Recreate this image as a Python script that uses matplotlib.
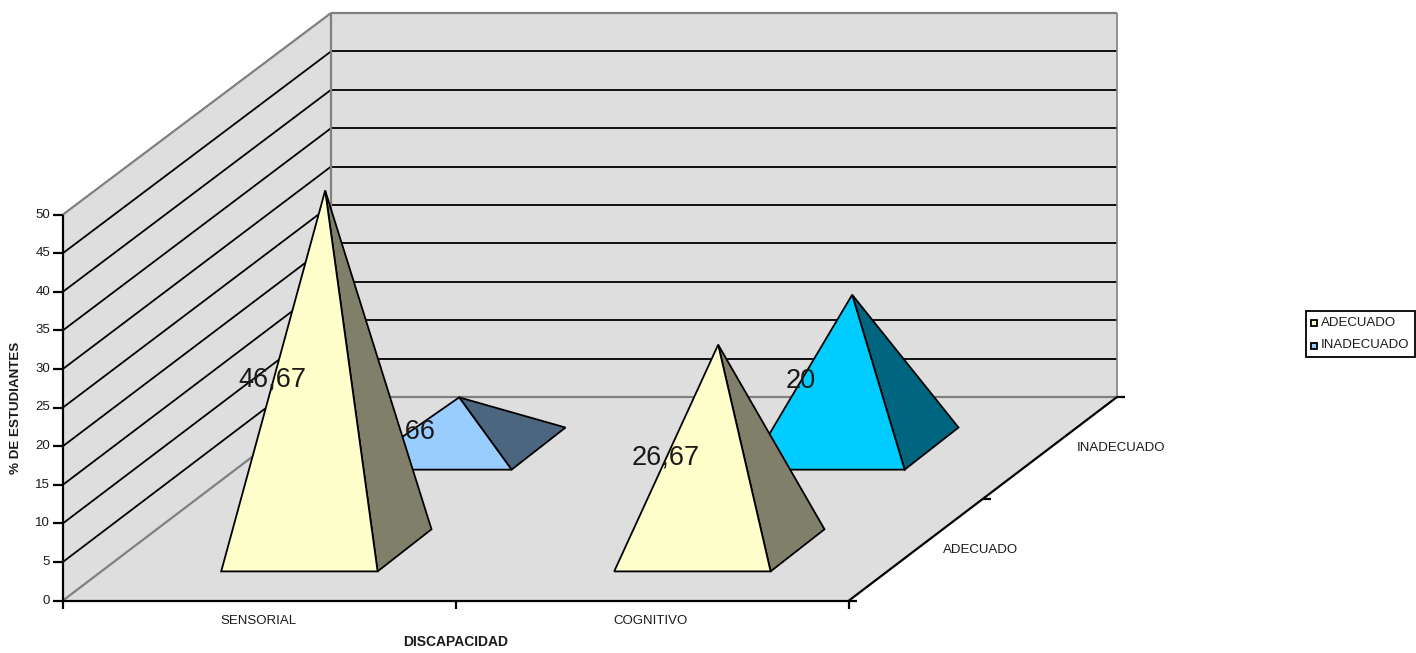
import matplotlib
matplotlib.use("Agg")
import matplotlib.pyplot as plt
from matplotlib.patches import Polygon, Rectangle

plt.rcParams['font.family'] = ['Liberation Sans', 'DejaVu Sans']

# ---- data ----
categories = ["SENSORIAL", "COGNITIVO"]
series_names = ["ADECUADO", "INADECUADO"]
adecuado = [46.67, 26.67]
inadecuado = [6.66, 20.0]
adecuado_labels = ["46,67", "26,67"]
inadecuado_labels = ["6,66", "20"]
value_ticks = [0, 5, 10, 15, 20, 25, 30, 35, 40, 45, 50]
x_title = "DISCAPACIDAD"
y_title = "% DE ESTUDIANTES"

# ---- oblique projection: (category, depth, value) -> figure pixels ----
ORIGIN = (63.0, 600.5)
CAT_W = 393.0
DEPTH_VEC = (134.0, -101.75)   # per series row
UNIT_Z = 7.72
ZMAX = value_ticks[-1]
NCAT = len(categories)
NROW = len(series_names)


def P(c, d, z=0.0):
    return (ORIGIN[0] + c * CAT_W + d * DEPTH_VEC[0],
            ORIGIN[1] + d * DEPTH_VEC[1] - z * (UNIT_Z - 0.02 * d))


fig = plt.figure(figsize=(14.16, 6.53), dpi=100, facecolor="white")
ax = fig.add_axes([0, 0, 1, 1])
ax.set_xlim(0, 1416)
ax.set_ylim(653, 0)
ax.axis("off")

WALL = "#DEDEDE"
GREY = "#808080"
LW = 1.3
TXT = "#1A1A1A"
SMALL = 9.5


def poly(pts, fc, z, ec="none", lw=0):
    ax.add_patch(Polygon(pts, closed=True, facecolor=fc, edgecolor=ec,
                         linewidth=lw, zorder=z, joinstyle="miter"))


def line(a, b, color="black", lw=LW, z=3):
    ax.plot([a[0], b[0]], [a[1], b[1]], color=color, lw=lw, zorder=z,
            solid_capstyle="butt")


# walls and floor
poly([P(0, 0), P(0, 0, ZMAX), P(0, NROW, ZMAX), P(0, NROW)], WALL, 1)
poly([P(0, NROW), P(0, NROW, ZMAX), P(NCAT, NROW, ZMAX), P(NCAT, NROW)], WALL, 1)
poly([P(0, 0), P(NCAT, 0), P(NCAT, NROW), P(0, NROW)], WALL, 1)

# gridlines
for v in value_ticks:
    col = GREY if v in (value_ticks[0], value_ticks[-1]) else "black"
    w = 1.6 if col == GREY else LW
    line(P(0, 0, v), P(0, NROW, v), col, w, 2)
    line(P(0, NROW, v), P(NCAT, NROW, v), col, w, 2)
line(P(0, NROW), P(0, NROW, ZMAX), GREY, 1.6, 2)
line(P(NCAT, NROW), P(NCAT, NROW, ZMAX), GREY, 1.2, 2)

# axes
line(P(0, 0, 0), P(0, 0, ZMAX), lw=1.6)
line(P(0, 0), P(NCAT, 0), lw=1.6)
line(P(NCAT, 0), P(NCAT, NROW), lw=1.6)
for v in value_ticks:
    a = P(0, 0, v)
    line((a[0] - 10, a[1]), a, lw=1.6)
    ax.text(a[0] - 13, a[1], str(v), ha="right", va="center", fontsize=SMALL,
            color=TXT)
for c in range(NCAT + 1):
    a = P(c, 0)
    line((a[0], a[1] + 8), a, lw=1.6)
for d in range(NROW + 1):
    a = P(NCAT, d)
    line(a, (a[0] + 8, a[1]), lw=1.6)
for i, name in enumerate(categories):
    a = P(i + 0.5, 0)
    ax.text(a[0] - 1 - (CAT_W / 2 - 196), a[1] + 20.5, name, ha="center",
            va="center", fontsize=SMALL, color=TXT)
for i, name in enumerate(series_names):
    a = P(NCAT, i + 0.5)
    ax.text(a[0] + 27, a[1] + 0.5, name, ha="left", va="center",
            fontsize=SMALL, color=TXT)
ax.text(456, 642, x_title, ha="center", va="center", fontsize=10,
        fontweight="bold", color=TXT)
ax.text(16, 408, y_title, ha="center", va="center", rotation=90, fontsize=9.6,
        fontweight="bold", color=TXT)


# pyramids
def pyramid(c, row, value, front, side, z):
    x0, x1 = c + 0.305, c + 0.703
    d0, d1 = row + 0.286, row + 0.70
    apex = P((x0 + x1) / 2 - 0.005, (d0 + d1) / 2, value)
    a, b, e = P(x0, d0), P(x1, d0), P(x1 - 0.004, d1)
    poly([b, e, apex], side, z, "black", LW)
    poly([a, b, apex], front, z, "black", LW)


rows = [
    (0, adecuado, adecuado_labels, [("#FFFFCC", "#80806A")] * 2,
     [(272, 380), (666, 458)]),
    (1, inadecuado, inadecuado_labels, [("#99CCFF", "#4D6680"), ("#00CCFF", "#006680")],
     [(409, 432), (801, 381)]),
]
for row, vals, labs, cols, pos in sorted(rows, key=lambda r: -r[0]):
    base = 10 - row * 4
    for i, v in enumerate(vals):
        pyramid(i, row, v, cols[i][0], cols[i][1], base)
    for lab, (x, y) in zip(labs, pos):
        ax.text(x, y, lab, ha="center", va="center", fontsize=19.5,
                color=TXT, zorder=base + 1)

# legend
ax.add_patch(Rectangle((1306, 311), 109, 46, facecolor="white",
                       edgecolor="black", linewidth=1.3, zorder=20))
for name, col, y in zip(series_names, ["#FFFFCC", "#99CCFF"], [322.5, 345.5]):
    ax.add_patch(Rectangle((1311, y - 3), 6, 6, facecolor=col, edgecolor="black",
                           linewidth=1.3, zorder=21))
    ax.text(1321, y, name, ha="left", va="center", fontsize=9.5,
            color=TXT, zorder=21)

fig.savefig("out.png", dpi=100)
